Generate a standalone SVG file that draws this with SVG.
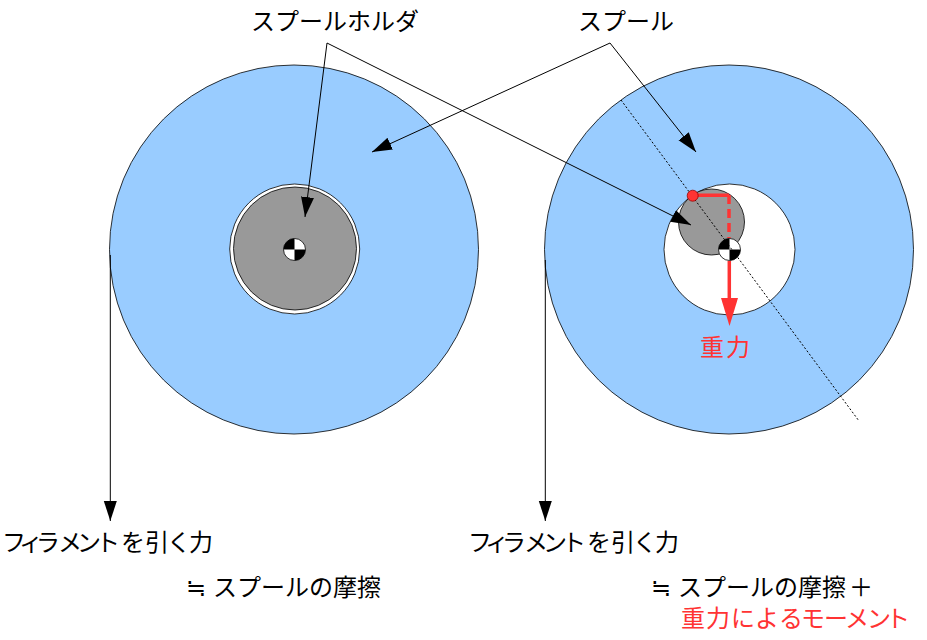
<svg xmlns="http://www.w3.org/2000/svg" width="927" height="640" viewBox="0 0 927 640">
<style>
text{font-family:"Noto Sans CJK JP","Liberation Sans",sans-serif;font-size:24px;fill:#000}
.r{fill:#ff3333}
.spool{fill:#99ccff;stroke:#000;stroke-width:.8}
.hole{fill:#fff;stroke:#000;stroke-width:.8}
.holder{fill:#999;stroke:#000;stroke-width:.8}
.ln{fill:none;stroke:#000;stroke-width:1}
</style>
<defs>
<marker id="a" markerUnits="userSpaceOnUse" markerWidth="21" markerHeight="14" refX="20" refY="7" orient="auto"><path d="M0 .5L20 7L0 13.500z" fill="#000"/></marker>
<g id="cm"><circle r="11" fill="#fff" stroke="#000" stroke-width=".8"/><path d="M0 0V-11A11 11 0 0 0-11 0zM0 0V11A11 11 0 0 0 11 0z" fill="#000"/></g>
</defs>
<g id="left-spool"><circle class="spool" cx="294" cy="249.500" r="184.500"/><circle class="hole" cx="294.700" cy="249" r="65"/><circle class="holder" cx="295" cy="248.500" r="61.500"/><use href="#cm" x="294.500" y="249.500"/></g>
<g id="right-spool"><circle class="spool" cx="729" cy="249.500" r="184.500"/><circle class="hole" cx="729.500" cy="249.500" r="65.500"/><circle class="holder" cx="711.500" cy="222" r="33"/><use href="#cm" x="729.500" y="249.500"/></g>
<g id="connectors">
<path class="ln" d="M621 100L859 421" stroke-dasharray="2 2"/>
<path class="ln" d="M327 43L305 217" marker-end="url(#a)"/>
<path class="ln" d="M327 43L691 225" marker-end="url(#a)"/>
<path class="ln" d="M610 43L372 152" marker-end="url(#a)"/>
<path class="ln" d="M610 43L696 152" marker-end="url(#a)"/>
<path class="ln" d="M110.300 255V521" marker-end="url(#a)"/>
<path class="ln" d="M545.300 260V521" marker-end="url(#a)"/>
<path d="M692 195.200H729" fill="none" stroke="#f33" stroke-width="3.500"/>
<path d="M729 195V238" fill="none" stroke="#f33" stroke-width="3.500" stroke-dasharray="9 5"/>
<path d="M729.300 261V300" fill="none" stroke="#f33" stroke-width="3.500"/>
<path d="M721 298H738L729.500 326z" fill="#f33"/>
<circle cx="692.700" cy="195.700" r="5.500" fill="#f33" stroke="#900" stroke-width=".8"/>
</g>
<g id="labels">
<text x="251" y="30">スプールホルダ</text>
<text x="578" y="30">スプール</text>
<text x="2 19 36 58 77 96 121 145 167 189" y="551">フィラメントを引く力</text>
<text x="468 485 502 524 543 562 587 611 633 655" y="551">フィラメントを引く力</text>
<text x="186 205 213 237 261 285 309 333 357" y="596">≒ スプールの摩擦</text>
<text x="651 670 678 702 726 750 774 798 822 849" y="596">≒ スプールの摩擦＋</text>
<text class="r" x="681 706 731 755 779 801 824 845 867 886" y="627">重力によるモーメント</text>
<text class="r" x="700 726" y="356">重力</text>
</g>
</svg>
